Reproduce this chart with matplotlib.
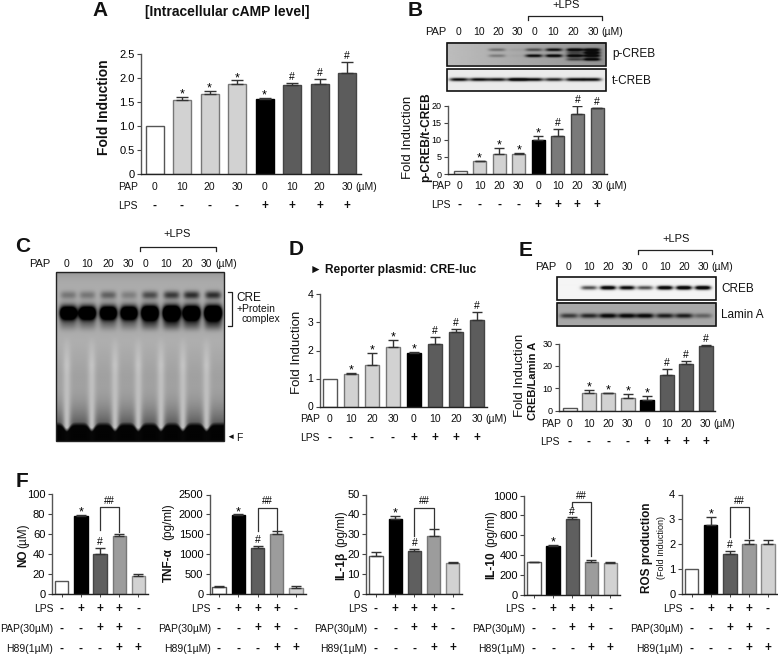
import numpy as np
import matplotlib
matplotlib.use('Agg')
import matplotlib.pyplot as plt
from matplotlib.patches import Rectangle

plt.rcParams['font.family'] = ['Liberation Sans', 'DejaVu Sans']
plt.rcParams['font.size'] = 7.5

W, H = 778, 654

# bar values
a_vals = [1, 1.53, 1.66, 1.87, 1.55, 1.84, 1.87, 2.09]
a_errs = [0, .06, .07, .07, .02, .05, .1, .24]
b_vals = [1, 3.7, 5.9, 5.8, 9.8, 11.2, 17.5, 19.2]
b_errs = [0, .1, 1.6, .4, 1.2, 1.9, 2.5, .1]
d_vals = [1, 1.15, 1.5, 2.12, 1.92, 2.22, 2.67, 3.1]
d_errs = [0, .03, .4, .24, .02, .27, .1, .28]
e_vals = [1, 7.8, 7.8, 5.8, 4.9, 15.8, 20.7, 29]
e_errs = [0, 1.3, .1, 1.5, 1.5, 3, 1.6, .3]
no_vals = [13, 78, 40, 58, 18]
no_errs = [0, 1, 6, 2, 2]
tnf_vals = [170, 1980, 1150, 1490, 150]
tnf_errs = [30, 15, 50, 80, 30]
il1_vals = [19, 37.5, 21.5, 29, 15.5]
il1_errs = [1.8, 1.5, 1, 3.5, .2]
il10_vals = [330, 495, 760, 335, 320]
il10_errs = [5, 5, 20, 15, 15]
ros_vals = [1, 2.78, 1.6, 2, 2]
ros_errs = [0, .32, .12, .15, .15]

sig8 = ['', '*', '*', '*', '*', '#', '#', '#']
pap_doses = ['0', '10', '20', '30', '0', '10', '20', '30']
lps_signs = ['-', '-', '-', '-', '+', '+', '+', '+']
f_lps = ['-', '+', '+', '+', '-']
f_pap = ['-', '-', '+', '+', '-']
f_h89 = ['-', '-', '-', '+', '+']

# band strength per lane for the blots and the gel
pcreb_upper = [0, 0, .3, .05, .45, .8, 1, 1]
pcreb_lower = [0, 0, .25, .03, .85, .95, 1, 1]
pcreb_mid = [0, 0, 0, 0, 0, 0, .45, 1]
pcreb_tail = [0, 0, 0, 0, 0, 0, .5, 1]
tcreb_band = [.8, .8, .75, 1, .8, .7, .8, .8]
creb_band = [0, .55, .95, .85, .55, .95, 1, 1]
lamin_band = [.55, .65, .85, .85, .85, .7, .7, .35]
gel_upper = [.18, .18, .25, .15, .32, .38, .42, .42]
gel_main = [1, 1, 1, 1, 1.05, 1.1, 1.05, 1.1]
gel_halo = [.28, .28, .28, .28, .42, .48, .42, .48]

fig = plt.figure(figsize=(W / 100, H / 100), dpi=100)
page = fig.add_axes([0, 0, 1, 1])
page.set_xlim(0, W)
page.set_ylim(H, 0)
page.axis('off')


def label(x, y, s, ha='center', size=7.5, weight='normal', rot=0, va='center'):
    page.text(x, y, s, ha=ha, va=va, fontsize=size, fontweight=weight, rotation=rot, color='#111111')


def bar_panel(left, right, y0, ytop, first, last, vals, errs, colors, edges, bar_px, ticks, ticklabels,
              marks=None, bracket=None, xticks=False, tick_size=7.5, err_color='#333333'):
    ax = fig.add_axes([left / W, 1 - y0 / H, (right - left) / W, (y0 - ytop) / H])
    ax.patch.set_alpha(0)
    step = (last - first) / (len(vals) - 1)
    xs = np.arange(len(vals))
    ax.bar(xs, vals, width=bar_px / step, color=colors, edgecolor=edges, linewidth=1)
    for i in xs:
        if errs[i] > 0:
            ax.errorbar(i, vals[i], yerr=[[0], [errs[i]]], color=err_color, capsize=bar_px * .25, lw=1, capthick=1)
    ax.set_xlim((left - first) / step, (right - first) / step)
    ax.set_ylim(ticks[0], ticks[-1])
    ax.set_yticks(ticks)
    ax.set_yticklabels(ticklabels, fontsize=tick_size)
    ax.tick_params(axis='y', length=3, width=.8, pad=1.5, color='#444444')
    if xticks:
        ax.set_xticks(xs)
        ax.set_xticklabels([])
        ax.tick_params(axis='x', length=2, width=.7, color='#444444')
    else:
        ax.set_xticks([])
    ax.spines['top'].set_visible(False)
    ax.spines['right'].set_visible(False)
    ax.spines['left'].set_color('#555555')
    ax.spines['left'].set_linewidth(1)
    ax.spines['bottom'].set_color('#222222')
    ax.spines['bottom'].set_linewidth(1)
    if marks:
        for i, m in enumerate(marks):
            if m:
                ax.annotate(m, (i, vals[i] + errs[i]), xytext=(0, .5 if m == '#' else -2.5), textcoords='offset points',
                            ha='center', va='bottom', fontsize=7.5 if m == '#' else 9, annotation_clip=False)
    if bracket:
        i, j, top, end_i, end_j = bracket
        ax.plot([i, i, j, j], [end_i, top, top, end_j], color='#333333', lw=.9, clip_on=False)
        ax.annotate('##', ((i + j) / 2, top), xytext=(0, 1), textcoords='offset points', ha='center', va='bottom',
                    fontsize=7, annotation_clip=False)
    return ax


def band_image(x0, x1, y0, y1, bg, bands, sx, sy, dark=.04, tilt=0):
    xx, yy = np.meshgrid(np.linspace(x0, x1, int((x1 - x0) * 3)), np.linspace(y0, y1, int((y1 - y0) * 3)))
    d = np.zeros_like(xx)
    for lane, y, amp in bands:
        d += amp * 1.3 * np.exp(-((xx - lane) / sx) ** 4) * np.exp(-((yy - y) / sy) ** 2)
    base = bg * (1 - tilt * (xx - x0) / (x1 - x0))
    img = base - (base - dark) * np.clip(d, 0, 1)
    page.imshow(img, extent=(x0, x1, y1, y0), cmap='gray', vmin=0, vmax=1, aspect='auto', interpolation='bilinear')
    page.add_patch(Rectangle((x0, y0), x1 - x0, y1 - y0, fill=False, ec='#111111', lw=1.2))


def top_header(pap_x, y, xs, um_x, br0, br1, br_y, lps_x, lps_y):
    label(pap_x, y, 'PAP', ha='left', size=8)
    for x, s in zip(xs, pap_doses):
        label(x, y, s)
    label(um_x, y, '(µM)', ha='left')
    page.plot([br0, br0, br1, br1], [br_y + 4, br_y, br_y, br_y + 4], color='#222222', lw=.9)
    label(lps_x, lps_y, '+LPS', size=8)


def rows_below(pap_x, lps_x, pap_y, lps_y, xs):
    label(pap_x, pap_y, 'PAP', ha='left')
    label(lps_x, lps_y, 'LPS', ha='left')
    for x, d, s in zip(xs, pap_doses, lps_signs):
        label(x, pap_y, d)
        label(x, lps_y, s, size=8.5, weight='bold')
    label(xs[-1] + 8, pap_y, '(µM)', ha='left')


def rows_f(lab_x, xs):
    for y, name, signs in [(609, 'LPS', f_lps), (628.5, 'PAP(30µM)', f_pap), (648.5, 'H89(1µM)', f_h89)]:
        label(lab_x, y, name, ha='right')
        for x, s in zip(xs, signs):
            label(x, y, s, size=8.5, weight='bold')


GREY_A = ['white'] + ['#d2d2d2'] * 3 + ['black'] + ['#5c5c5c'] * 3
EDGE_A = ['#555555'] + ['#777777'] * 3 + ['black'] + ['#444444'] * 3
GREY_B = ['white'] + ['#d2d2d2'] * 3 + ['black'] + ['#7a7a7a'] * 3
GREY_F = ['white', 'black', '#5f5f5f', '#9c9c9c', '#d2d2d2']
EDGE_F = ['#555555', 'black', '#444444', '#777777', '#888888']

# panel A
label(92, 11, 'A', ha='left', size=15, weight='bold')
label(145, 12, '[Intracellular cAMP level]', ha='left', size=10, weight='bold')
bar_panel(141, 361, 174, 53.5, 154.5, 347, a_vals, a_errs, GREY_A, EDGE_A, 18,
          [0, .5, 1, 1.5, 2, 2.5], ['0', '0.5', '1.0', '1.5', '2.0', '2.5'], marks=sig8, tick_size=8)
label(104, 107, 'Fold Induction', size=10, weight='bold', rot=90)
a_x = np.linspace(154.5, 347, 8)
rows_below(118.5, 118.5, 187, 206, a_x)

# panel B
label(408, 11, 'B', ha='left', size=15, weight='bold')
b_lanes = [459, 479, 497, 517, 534, 554, 575, 592]
top_header(425, 32, [459, 479, 498, 517, 535, 553, 573, 593], 601, 528.5, 602.5, 16, 566, 5)
band_image(447, 606, 43, 65.5, .74, [(x, 50.5, a) for x, a in zip(b_lanes, pcreb_upper)]
           + [(x, 56.5, a) for x, a in zip(b_lanes, pcreb_lower)]
           + [(x, 53.5, a) for x, a in zip(b_lanes, pcreb_mid)]
           + [(x, 60, a) for x, a in zip(b_lanes, pcreb_tail)], 8.5, 1.5, tilt=.22)
band_image(447, 606, 69, 91, .92, [(x, 79.5, a) for x, a in zip(b_lanes, tcreb_band)], 9.5, 1.7)
label(612, 53.5, 'p-CREB', ha='left', size=8.5)
label(612, 80.5, 't-CREB', ha='left', size=8.5)
bar_panel(448, 607, 174, 105.5, 460, 597, b_vals, b_errs, GREY_B, EDGE_A, 13,
          [0, 5, 10, 15, 20], ['0', '5', '10', '15', '20'], marks=sig8, tick_size=6.5)
label(408, 137, 'Fold Induction', size=9.5, rot=90)
label(426, 137, 'p-CREB/t-CREB', size=8.6, weight='bold', rot=90)
rows_below(431.5, 431.5, 186, 205, np.linspace(460, 597, 8))

# panel C
label(15, 247, 'C', ha='left', size=15, weight='bold')
c_lanes = np.array([68.3, 87.3, 108.3, 129, 150, 171.7, 191.7, 213.3])
c_streaks = np.array([66.7, 91.7, 115, 138.3, 161, 183, 206.7])
top_header(29, 264, [67, 87, 108, 128, 146, 166, 187, 206], 215, 140.5, 216, 247, 177, 234)
gx, gy = np.meshgrid(np.linspace(56, 224, 420), np.linspace(272, 441, 420))
gel = np.full_like(gx, .68)
for x, up, main, halo in zip(c_lanes, gel_upper, gel_main, gel_halo):
    gel -= up * 1.2 * np.exp(-((gx - x) / 8) ** 4) * np.exp(-((gy - 295) / 4) ** 2)
    gel -= main * 1.2 * np.exp(-((gx - x) / 8.5) ** 4) * np.exp(-((gy - 313) / 6) ** 2)
    gel -= halo * np.exp(-((gx - x) / 9) ** 4) * np.exp(-((gy - 316) / 13) ** 4)
mask = np.exp(-((gx[..., None] - c_streaks) / 4) ** 2).sum(axis=-1)
gel -= .05 * np.clip((gy - 345) / 30, 0, 1)
gel += .12 * mask * np.clip((gy - 335) / 30, 0, 1)
gel -= .32 * np.clip((gy - 385) / 42, 0, 1) ** 2 * (1 - mask)
gel -= .1 * np.exp(-(gy - 272) / 5)
front = 425 + 6 * mask
gel = gel * (1 - .96 * np.clip((gy - front + 3) / 4, 0, 1))
page.imshow(np.clip(gel, 0, 1), extent=(56, 224, 441, 272), cmap='gray', vmin=0, vmax=1, aspect='auto')
page.add_patch(Rectangle((56, 272), 168, 169, fill=False, ec='#222222', lw=1))
page.plot([228, 232, 232, 228], [292, 292, 326, 326], color='#222222', lw=.9)
label(236.5, 298, 'CRE', ha='left', size=8.5)
label(236.5, 309, '+Protein', ha='left', size=7.5)
label(241.5, 319, 'complex', ha='left', size=7.5)
label(226, 437.5, '◄', ha='left', size=6)
label(236, 438, 'F', ha='left')

# panel D
label(289, 249.5, 'D', ha='left', size=15, weight='bold')
label(310, 270.5, '► Reporter plasmid: CRE-luc', ha='left', size=8.6, weight='bold')
bar_panel(319.5, 487, 406.5, 294.5, 330, 477, d_vals, d_errs, GREY_A, EDGE_A, 14.5,
          [0, 1, 2, 3, 4], ['0', '1', '2', '3', '4'], marks=sig8)
label(297, 352, 'Fold Induction', size=9.5, rot=90)
rows_below(300, 300, 419, 438, np.linspace(330, 477, 8))

# panel E
label(519, 250, 'E', ha='left', size=15, weight='bold')
e_lanes = [569, 589, 608, 627, 645, 665, 684, 703]
top_header(535, 266.5, e_lanes, 711.5, 638.5, 712.5, 250, 676, 239)
band_image(557, 716, 277, 299.5, .96, [(x, 288.5, a) for x, a in zip(e_lanes, creb_band)], 8, 2)
band_image(557, 716, 303, 325.5, .66, [(x, 316.5, a) for x, a in zip(e_lanes, lamin_band)], 9, 2.4)
label(721, 288.5, 'CREB', ha='left', size=8.5)
label(721, 315, 'Lamin A', ha='left', size=8.5)
bar_panel(559, 715, 410.5, 343.5, 569.5, 705.5, e_vals, e_errs, GREY_A, EDGE_A, 14,
          [0, 10, 20, 30], ['0', '10', '20', '30'], marks=sig8, tick_size=6.5)
label(520, 375, 'Fold Induction', size=9.5, rot=90)
label(533.5, 380.5, 'CREB/Lamin A', size=8, weight='bold', rot=90)
rows_below(541, 540, 424, 442, np.linspace(569.5, 705.5, 8))

# panel F
label(16, 481.5, 'F', ha='left', size=15, weight='bold')
f_marks = ['', '*', '#', '', '']

bar_panel(51.5, 148, 593.5, 494, 61.7, 138.3, no_vals, no_errs, GREY_F, EDGE_F, 13.3,
          [0, 20, 40, 60, 80, 100], ['0', '20', '40', '60', '80', '100'], marks=f_marks,
          bracket=(2, 3, 87, 64, 62), xticks=True, tick_size=8)
rows_f(53.5, np.linspace(61.7, 138.3, 5))
label(23.5, 567, 'NO', size=8.5, weight='bold', rot=90, va='bottom')
label(23.5, 547.5, '(µM)', size=8.5, rot=90, va='bottom')

bar_panel(209.5, 306, 593.5, 494.5, 219, 296, tnf_vals, tnf_errs, GREY_F, EDGE_F, 13.3,
          [0, 500, 1000, 1500, 2000, 2500], ['0', '500', '1000', '1500', '2000', '2500'], marks=f_marks,
          bracket=(2, 3, 2170, 1575, 1575), xticks=True, tick_size=8)
rows_f(211, np.linspace(219, 296, 5))
label(168.5, 582, 'TNF-α', size=8.5, weight='bold', rot=90, va='bottom')
label(168.5, 539.5, '(pg/ml)', size=8.5, rot=90, va='bottom')

bar_panel(366, 461.5, 593.5, 494.5, 376, 452.7, il1_vals, il1_errs, GREY_F, EDGE_F, 13.3,
          [0, 10, 20, 30, 40, 50], ['0', '10', '20', '30', '40', '50'], marks=f_marks,
          bracket=(2, 3, 43.4, 29, 33), xticks=True, tick_size=8)
rows_f(367.5, np.linspace(376, 452.7, 5))
label(341, 579.5, 'IL-1β', size=8.5, weight='bold', rot=90, va='bottom')
label(341, 547, '(pg/ml)', size=8.5, rot=90, va='bottom')

bar_panel(524, 620, 595, 495.5, 534, 610.3, il10_vals, il10_errs, GREY_F, EDGE_F, 13.3,
          [0, 200, 400, 600, 800, 1000], ['0', '200', '400', '600', '800', '1000'], marks=f_marks,
          bracket=(2, 3, 933, 880, 396), xticks=True, tick_size=8)
rows_f(525, np.linspace(534, 610.3, 5))
label(491, 579, 'IL-10', size=8.5, weight='bold', rot=90, va='bottom')
label(491, 547, '(pg/ml)', size=8.5, rot=90, va='bottom')

bar_panel(681.5, 777, 593.5, 494.5, 691.7, 768, ros_vals, ros_errs, GREY_F, EDGE_F, 13.3,
          [0, 1, 2, 3, 4], ['0', '1', '2', '3', '4'], marks=f_marks,
          bracket=(2, 3, 3.48, 2.28, 2.24), xticks=True, tick_size=8)
rows_f(683, np.linspace(691.7, 768, 5))
label(647.5, 547.5, 'ROS production', size=8.5, weight='bold', rot=90)
label(662, 547.5, '(Fold Induction)', size=6.5, rot=90)

page.set_xlim(0, W)
page.set_ylim(H, 0)
fig.savefig('out.png', dpi=100)
